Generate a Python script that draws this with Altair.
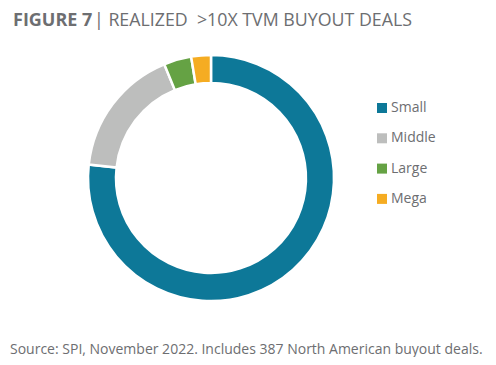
import altair as alt
import pandas as pd

categories = ["Small", "Middle", "Large", "Mega"]
deals = [297, 66, 14, 10]
colors = ["#0d7898", "#bdbebd", "#65a244", "#f5ac22"]

df = pd.DataFrame({"size": categories, "deals": deals, "idx": list(range(len(categories)))})

FONT = "Open Sans"
GREY = "#6d6e71"

arc = alt.Chart(df).mark_arc(innerRadius=95, outerRadius=123, stroke="white", strokeWidth=2.5).encode(
    theta=alt.Theta("deals:Q", stack=True),
    order=alt.Order("idx:Q"),
    color=alt.Color(
        "size:N",
        sort=categories,
        scale=alt.Scale(domain=categories, range=colors),
        legend=alt.Legend(
            title=None, orient="none", legendX=367, legendY=93,
            symbolType="square", symbolSize=100, symbolStrokeWidth=0,
            labelFont=FONT, labelFontSize=14, labelColor=GREY,
            rowPadding=16.3, labelOffset=2,
        ),
    ),
    x=alt.value(203),
    y=alt.value(170),
)

base = alt.Chart(pd.DataFrame({"a": [0]}))
title_bold = base.mark_text(align="left", baseline="alphabetic", font=FONT, fontSize=18,
                            fontWeight="bold", color=GREY).encode(
    x=alt.value(5), y=alt.value(18), text=alt.value("FIGURE 7"))
title_rest = base.mark_text(align="left", baseline="alphabetic", font=FONT, fontSize=17.8,
                            color=GREY).encode(
    x=alt.value(86), y=alt.value(18), text=alt.value("| REALIZED \u00a0>10X TVM BUYOUT DEALS"))
source = base.mark_text(align="left", baseline="alphabetic", font=FONT, fontSize=14,
                        color=GREY).encode(
    x=alt.value(2), y=alt.value(346),
    text=alt.value("Source: SPI, November 2022. Includes 387 North American buyout deals."))

chart = alt.layer(arc, title_bold, title_rest, source).properties(
    width=480, height=349, padding=0,
    autosize=alt.AutoSizeParams(type="fit", contains="padding"),
).configure_view(stroke=None)

chart.save("out.html", embed_options={"renderer": "svg", "actions": False})
